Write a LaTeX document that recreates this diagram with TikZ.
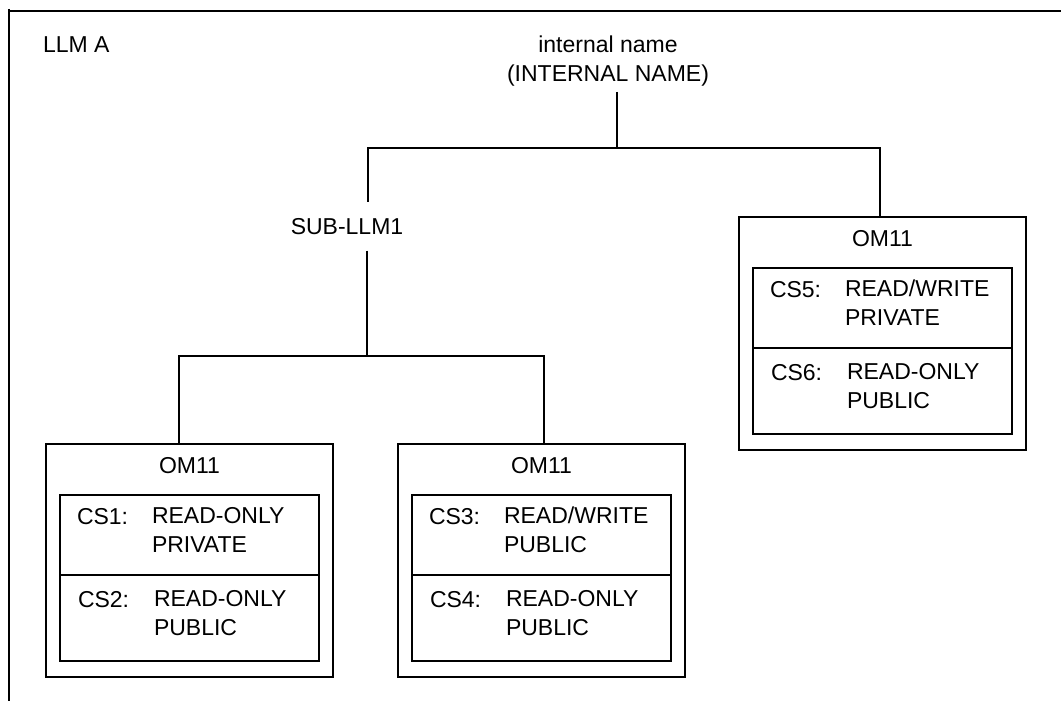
\documentclass[tikz,border=0pt]{standalone}
\usepackage{fontspec}
\setmainfont{Liberation Sans}
\begin{document}
\begin{tikzpicture}[x=1pt,y=-1pt,
  every node/.style={inner sep=0pt, outer sep=0pt},
  txt/.style={font=\fontsize{23}{29}\selectfont},
  ombox/.style={draw, line width=1.2pt, minimum width=287pt, minimum height=233pt},
  csbox/.style={draw, line width=1.2pt, minimum width=259pt, anchor=north},
  wire/.style={line width=1.1pt},
  frame/.style={line width=1.2pt}]
\useasboundingbox (0,0) rectangle (1061,701);

% page frame
\draw[frame] (8,11) -- (1061,11);
\draw[frame] (9,9) -- (9,701);

% headings
\node[txt, anchor=base west] (llm) at (43,53) {LLM A};
\node[txt, anchor=north, align=center] (root) at (608,35.5) {internal name\\(INTERNAL NAME)};
\node[txt, anchor=base, inner ysep=16pt, text height=17pt, text depth=0pt] (sub) at (347,234.5) {SUB-LLM1};

% object modules
\node[ombox] (om1) at (189.5,560.5) {};
\node[ombox] (om2) at (541.5,560.5) {};
\node[ombox] (om3) at (882.5,333.5) {};

\foreach \m/\a/\b/\ta/\va/\tb/\vb in {
  om1/CS1/CS2/READ-ONLY/PRIVATE/READ-ONLY/PUBLIC,
  om2/CS3/CS4/READ\slash WRITE/PUBLIC/READ-ONLY/PUBLIC,
  om3/CS5/CS6/READ\slash WRITE/PRIVATE/READ-ONLY/PUBLIC}{
  \node[txt, anchor=base] (\m-name) at ([yshift=-29pt]\m.north) {OM11};
  \node[csbox, minimum height=80pt] (\m-a) at ([yshift=-51pt]\m.north) {};
  \node[csbox, minimum height=86pt] (\m-b) at (\m-a.south) {};
  \node[txt, anchor=base west] (\m-al) at ([xshift=17pt,yshift=-29pt]\m-a.north west) {\a:};
  \node[txt, anchor=north west, align=left] (\m-av) at ([xshift=92pt,yshift=-12.3pt]\m-a.north west) {\ta\\\va};
  \node[txt, anchor=base west] (\m-bl) at ([xshift=18pt,yshift=-32pt]\m-b.north west) {\b:};
  \node[txt, anchor=north west, align=left] (\m-bv) at ([xshift=94pt,yshift=-15.3pt]\m-b.north west) {\tb\\\vb};
}

% tree connectors
\coordinate (rootfoot) at (617,92);
\coordinate (bus1) at (617,148);
\coordinate (bus2) at (367,356);
\draw[wire] (rootfoot) -- (bus1);
\draw[wire] ([xshift=21pt]sub.north) |- (bus1) -| ([xshift=-2.5pt]om3.north);
\draw[wire] ([xshift=20pt]sub.south) -- (bus2);
\draw[wire] ([xshift=-10.5pt]om1.north) |- (bus2) -| ([xshift=2.5pt]om2.north);
\end{tikzpicture}
\end{document}
